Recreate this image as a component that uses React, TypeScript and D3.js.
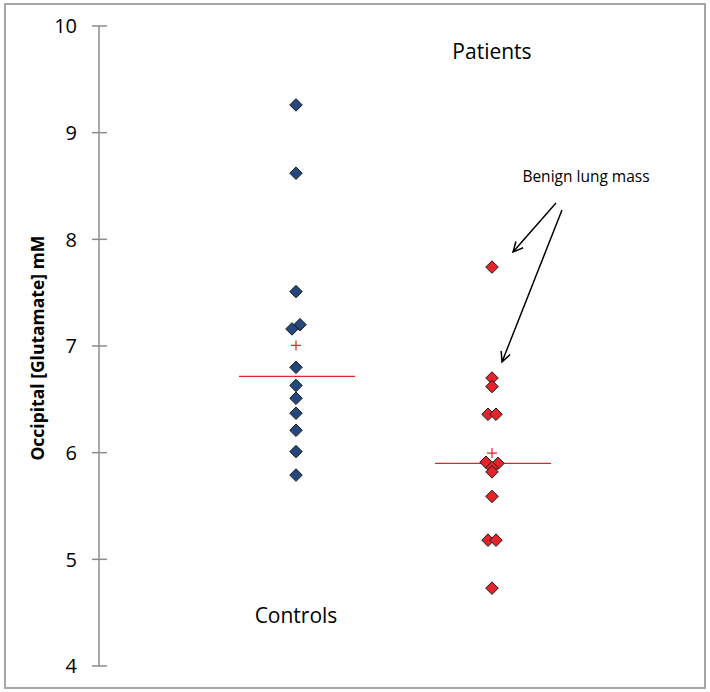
import React, { useEffect, useRef } from "react"
import * as d3 from "d3"

// values
const groups = ["Controls", "Patients"]
const controls = [9.26, 8.62, 7.51, 7.2, 7.16, 6.8, 6.63, 6.51, 6.37, 6.21, 6.01, 5.79]
const controlsJitter = [0, 0, 0, 4, -4, 0, 0, 0, 0, 0, 0, 0]
const patients = [7.74, 6.7, 6.62, 6.36, 6.36, 5.91, 5.9, 5.86, 5.82, 5.59, 5.18, 5.18, 4.73]
const patientsJitter = [0, 0, 0, -4, 4, -6, 6, 0, 0, 0, -4, 4, 0]
const yTicks = [4, 5, 6, 7, 8, 9, 10]
const benignIdx = [0, 1] // patients flagged as benign lung mass

const W = 710
const H = 692

export default function App() {
  const svgRef = useRef<SVGSVGElement>(null)

  useEffect(() => {
    const svg = d3.select(svgRef.current)
    svg.selectAll("*").remove()

    const y = d3.scaleLinear().domain([4, 10]).range([666, 26])
    const x = d3.scalePoint<string>().domain(groups).range([296, 492])
    const axisX = 99

    // frame
    svg.append("rect")
      .attr("x", 5).attr("y", 4).attr("width", 700).attr("height", 684)
      .attr("fill", "#fff").attr("stroke", "#a6a6a6").attr("stroke-width", 2)

    // y axis
    svg.append("line")
      .attr("x1", axisX).attr("x2", axisX)
      .attr("y1", y(10)).attr("y2", y(4))
      .attr("stroke", "#8c8c8c").attr("stroke-width", 1.5)
    const tick = svg.selectAll(".tick").data(yTicks).enter().append("g")
    tick.append("line")
      .attr("x1", axisX - 7).attr("x2", axisX + 8)
      .attr("y1", d => y(d)).attr("y2", d => y(d))
      .attr("stroke", "#8c8c8c").attr("stroke-width", 1.5)
    tick.append("text")
      .attr("x", 77).attr("y", d => y(d))
      .attr("dy", "0.36em")
      .attr("text-anchor", "end")
      .attr("font-family", "Open Sans, sans-serif")
      .attr("font-size", 20)
      .attr("fill", "#000")
      .text(d => d)

    svg.append("text")
      .attr("transform", `translate(44, ${y(6.98)}) rotate(-90)`)
      .attr("text-anchor", "middle")
      .attr("font-family", "Open Sans, sans-serif")
      .attr("font-weight", "bold")
      .attr("font-size", 17.5)
      .text("Occipital [Glutamate] mM")

    const diamond = d3.symbol().type(d3.symbolDiamond2).size(100)

    const drawGroup = (name: string, vals: number[], jit: number[], fill: string) => {
      const cx = x(name) as number
      const med = d3.median(vals) as number
      const mean = d3.mean(vals) as number
      svg.append("line")
        .attr("x1", cx - 57).attr("x2", cx + 59)
        .attr("y1", y(med)).attr("y2", y(med))
        .attr("stroke", "#e2232b").attr("stroke-width", 1.3)
      const pts = vals.map((v, i) => ({ v, j: jit[i] }))
      svg.append("g").selectAll("path").data(pts).enter().append("path")
        .attr("d", diamond)
        .attr("transform", d => `translate(${cx + d.j}, ${y(d.v)})`)
        .attr("fill", fill)
        .attr("stroke", "#1a1a1a")
        .attr("stroke-width", 1)
      // mean
      svg.append("path")
        .attr("d", `M${cx - 5},${y(mean)}h10M${cx},${y(mean) - 5}v10`)
        .attr("stroke", "#e2232b").attr("stroke-width", 1.2)
    }
    drawGroup("Controls", controls, controlsJitter, "#24477e")
    drawGroup("Patients", patients, patientsJitter, "#e4232b")

    const label = (t: string, px: number, py: number) =>
      svg.append("text")
        .attr("x", px).attr("y", py)
        .attr("text-anchor", "middle")
        .attr("font-family", "Open Sans, sans-serif")
        .attr("font-size", 21)
        .text(t)
    label("Controls", x("Controls") as number, 623)
    label("Patients", x("Patients") as number, 59)

    // annotation
    svg.append("text")
      .attr("x", 586).attr("y", 182)
      .attr("text-anchor", "middle")
      .attr("font-family", "Open Sans, sans-serif")
      .attr("font-size", 15.5)
      .text("Benign lung mass")

    const starts = [[556, 203], [562, 210]]
    const ends = [[21, -15], [10, -16]]
    benignIdx.forEach((idx, k) => {
      const tx = (x("Patients") as number) + patientsJitter[idx] + ends[k][0]
      const ty = y(patients[idx]) + ends[k][1]
      const [sx, sy] = starts[k]
      const ang = Math.atan2(ty - sy, tx - sx)
      const L = 11, a = 0.45
      svg.append("path")
        .attr("d",
          `M${sx},${sy}L${tx},${ty}` +
          `M${tx - L * Math.cos(ang - a)},${ty - L * Math.sin(ang - a)}L${tx},${ty}` +
          `L${tx - L * Math.cos(ang + a)},${ty - L * Math.sin(ang + a)}`)
        .attr("fill", "none")
        .attr("stroke", "#000")
        .attr("stroke-width", 1.5)
    })
  }, [])

  return (
    <svg ref={svgRef} width={W} height={H}
      style={{ position: "absolute", left: 0, top: 0, display: "block" }} />
  )
}
